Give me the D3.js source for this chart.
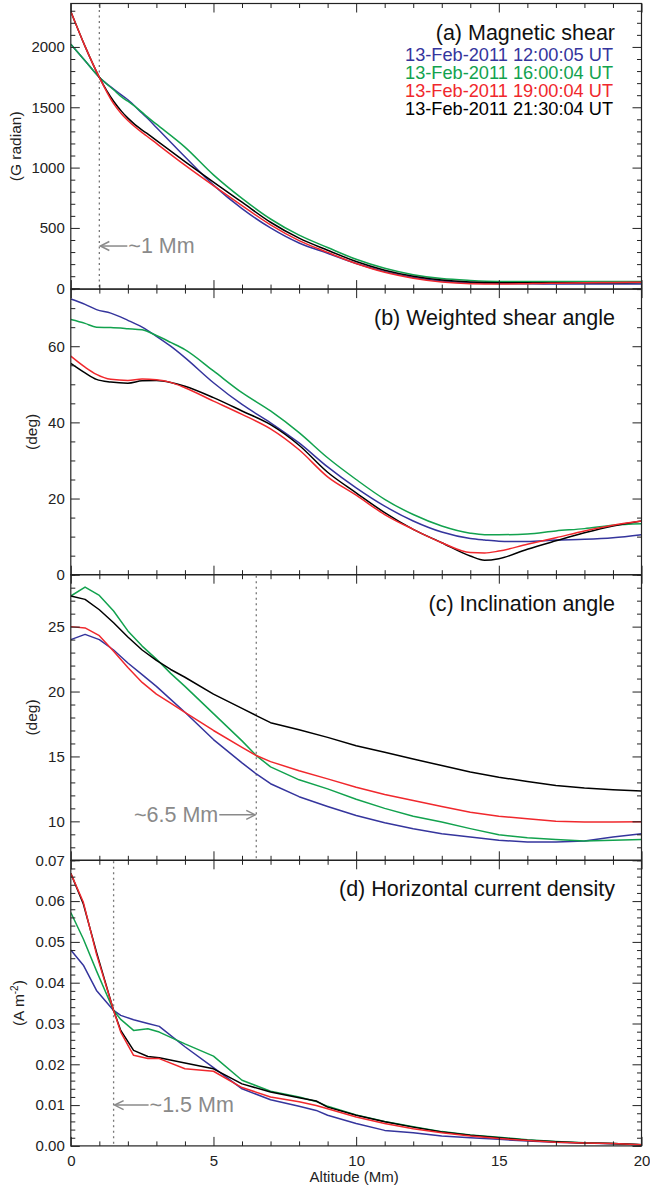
<!DOCTYPE html>
<html><head><meta charset="utf-8">
<script src="https://cdn.jsdelivr.net/npm/d3@7"></script>
<style>
body{margin:0;background:#fff}
svg{display:block}
text{font-family:"Liberation Sans",Arial,Helvetica,sans-serif}
</style>
</head><body>
<svg id="chart" width="650" height="1188"></svg>
<script>
// ---------- DATA ----------
const seriesNames = ["13-Feb-2011 12:00:05 UT","13-Feb-2011 16:00:04 UT","13-Feb-2011 19:00:04 UT","13-Feb-2011 21:30:04 UT"];
const seriesColors = ["#35359d","#12a24e","#f0282d","#000000"];
const xTicks = [0,5,10,15,20];
const xMinor = [1,2,3,4,6,7,8,9,11,12,13,14,16,17,18,19];

// (a) Magnetic shear (G radian)
const altA = [0,0.5,1,1.5,1.78,2,2.5,2.66,3,4,5,6,7,8,9,10,11,12,13,14,15,16,17,18,19,20];
const shearBlue  = [2023,1885,1748,1650,1600,1562,1450,1415,1333,1090,855,660,500,375,290,205,138,90,60,45,40,37,36,36,36,36];
const shearGreen = [2023,1885,1748,1645,1585,1550,1458,1424,1360,1170,940,745,574,440,338,240,165,112,80,65,57,56,56,56,56,56];
const shearRed   = [2294,2005,1748,1530,1444,1390,1290,1262,1200,1020,850,685,525,395,297,205,132,83,52,38,35,38,42,45,48,50];
const shearBlack = [2294,2005,1748,1550,1466,1410,1310,1285,1225,1050,880,713,547,415,315,222,150,100,68,52,46,45,45,46,46,47];
const ticksA = [0,500,1000,1500,2000];

// (b) Weighted shear angle (deg)
const altB = [0,0.5,0.9,1.4,2,2.5,3,3.5,4,5,6,7,8,9,10,11,12,13,14,14.5,15,16,17,18,19,20];
const angleBlue  = [72.4,71.0,69.6,68.7,66.8,65.0,62.6,60.0,57.0,50.4,44.7,39.9,34.6,28.3,22.8,18.0,14.1,11.2,9.5,9.1,8.8,8.7,9.1,9.3,9.7,10.5];
const angleGreen = [67.0,66.0,65.0,64.9,64.6,64.3,62.8,61.0,59.1,53.5,47.8,43.0,37.3,30.7,25.0,19.8,15.8,12.8,10.9,10.5,10.5,10.7,11.5,12.1,13.0,13.4];
const angleRed   = [57.4,54.5,52.6,51.3,51.0,51.4,51.2,50.5,49.1,45.6,42.1,38.3,32.8,25.7,20.9,15.8,11.9,8.4,5.8,5.7,6.2,8.0,9.7,11.5,13.0,14.1];
const angleBlack = [55.5,53.0,51.3,50.6,50.3,50.9,51.0,50.5,49.5,46.5,43.0,39.4,34.0,26.9,21.5,16.3,11.9,8.4,4.9,3.8,4.2,6.7,8.9,11.0,12.8,14.1];
const ticksB = [0,20,40,60];

// (c) Inclination angle (deg)
const altC = [0,0.5,1,1.5,2,2.5,3,3.5,4,5,6,6.5,7,8,9,10,11,12,13,14,15,16,17,18,19,20];
const inclBlue  = [24.0,24.4,24.0,23.2,22.2,21.3,20.4,19.4,18.4,16.3,14.5,13.65,12.9,11.9,11.15,10.45,9.9,9.43,9.05,8.8,8.54,8.41,8.41,8.49,8.8,9.05];
const inclGreen = [27.36,28.05,27.4,26.2,24.67,23.5,22.5,21.4,20.4,18.3,16.2,15.07,14.2,13.2,12.5,11.7,11.0,10.4,9.95,9.44,8.97,8.74,8.6,8.49,8.54,8.6];
const inclRed   = [25.0,24.9,24.3,23.1,21.85,20.7,19.8,19.1,18.4,17.0,15.7,15.07,14.6,13.9,13.27,12.63,12.07,11.6,11.15,10.7,10.4,10.2,10.0,9.95,9.95,9.97];
const inclBlack = [27.36,27.1,26.3,25.3,24.2,23.2,22.4,21.7,21.1,19.8,18.7,18.15,17.6,17.05,16.47,15.83,15.32,14.8,14.3,13.8,13.4,13.07,12.76,12.56,12.43,12.33];
const ticksC = [10,15,20,25];

// (d) Horizontal current density (A m^-2)
const altD = [0,0.44,0.9,1.5,1.75,2.2,2.7,3.1,4,5,6,7,8,8.6,9,10,11,12,13,14,15,16,17,18,19,20];
const jhBlue  = [0.0480,0.0443,0.0381,0.0332,0.0320,0.0309,0.0300,0.0293,0.0243,0.0192,0.0140,0.0113,0.0097,0.0087,0.0075,0.0055,0.0038,0.0032,0.0024,0.0020,0.0016,0.0012,0.0009,0.0007,0.0005,0.0003];
const jhGreen = [0.0572,0.0507,0.0429,0.0332,0.0310,0.0283,0.0287,0.0279,0.0250,0.0220,0.0161,0.0134,0.0120,0.0109,0.0097,0.0076,0.0060,0.0047,0.0035,0.0027,0.0021,0.0015,0.0011,0.0008,0.0006,0.0003];
const jhRed   = [0.0668,0.0597,0.0470,0.0332,0.0279,0.0222,0.0214,0.0214,0.0189,0.0183,0.0143,0.0120,0.0108,0.0099,0.0091,0.0071,0.0055,0.0042,0.0032,0.0024,0.0018,0.0013,0.0009,0.0007,0.0006,0.0003];
const jhBlack = [0.0668,0.0593,0.0475,0.0332,0.0283,0.0234,0.0219,0.0216,0.0203,0.0189,0.0152,0.0132,0.0118,0.0110,0.0095,0.0075,0.0059,0.0046,0.0034,0.0026,0.0020,0.0014,0.0010,0.0007,0.0006,0.0003];
const ticksD = [0,0.01,0.02,0.03,0.04,0.05,0.06,0.07];

// ---------- LAYOUT ----------
const svg = d3.select("#chart");
const X0 = 70.8, X1 = 641.5, TOP = 3.5, PH = 285.6;
const x = d3.scaleLinear().domain([0,20]).range([X0,X1]);
const AXC = "#222";
const GRAY = "#8a8a8a";

const panels = [
  {title:"(a) Magnetic shear", ylab:"(G radian)", labX:21, domain:[-7,2360], alt:altA,
   series:[shearBlue,shearGreen,shearBlack,shearRed], major:ticksA, minorStep:100, fmt:d3.format("d"),
   curve:d3.curveMonotoneX, mark:{x:1, y:350, dir:-1, len:27, label:"~1 Mm"}},
  {title:"(b) Weighted shear angle", ylab:"(deg)", labX:37, domain:[0,75], alt:altB,
   series:[angleBlue,angleGreen,angleBlack,angleRed], major:ticksB, minorStep:5, fmt:d3.format("d"),
   curve:d3.curveMonotoneX, mark:null},
  {title:"(c) Inclination angle", ylab:"(deg)", labX:37, domain:[7,29], alt:altC,
   series:[inclBlue,inclGreen,inclBlack,inclRed], major:ticksC, minorStep:1, fmt:d3.format("d"),
   curve:d3.curveLinear, mark:{x:6.5, y:10.5, dir:1, len:36, label:"~6.5 Mm"}},
  {title:"(d) Horizontal current density", ylab:null, labX:24, domain:[0,0.07], alt:altD,
   series:[jhBlue,jhGreen,jhBlack,jhRed], major:ticksD, minorStep:0.002, fmt:d3.format(".2f"),
   curve:d3.curveLinear, mark:{x:1.5, y:0.01, dir:-1, len:34, label:"~1.5 Mm"}}
];

function styleAxis(sel){
  sel.select(".domain").remove();
  sel.selectAll(".tick line").attr("stroke",AXC).attr("stroke-width",1);
  sel.selectAll(".tick text").attr("fill",AXC).attr("font-size","15px")
     .attr("font-family",'"Liberation Sans",Arial,Helvetica,sans-serif');
}

panels.forEach((p,i)=>{
  const top = TOP + i*PH, bottom = top + PH;
  const y = d3.scaleLinear().domain(p.domain).range([bottom, top]);
  const g = svg.append("g");
  const cid = "clip"+i;
  svg.append("clipPath").attr("id",cid).append("rect")
     .attr("x",X0).attr("y",top).attr("width",X1-X0).attr("height",PH);

  if (p.mark){
    g.append("line").attr("x1",x(p.mark.x)).attr("x2",x(p.mark.x)).attr("y1",top+1).attr("y2",bottom)
     .attr("stroke","#777").attr("stroke-width",1.3).attr("stroke-dasharray","2,3.5");
  }

  // data lines, drawn blue, green, black, red
  const line = d3.line().x(d=>x(d[0])).y(d=>y(d[1])).curve(p.curve);
  const colorIdx = [0,1,3,2];
  const lg = g.append("g").attr("clip-path",`url(#${cid})`);
  p.series.forEach((s,k)=>{
    const pts = p.alt.map((a,j)=>[a,s[j]]);
    lg.append("path").attr("d",line(pts)).attr("fill","none")
      .attr("stroke",seriesColors[colorIdx[k]]).attr("stroke-width",1.5).attr("stroke-linejoin","round");
  });

  const lo = p.domain[0], hi = p.domain[1];
  const minors = d3.range(Math.ceil(lo/p.minorStep), Math.floor(hi/p.minorStep+1e-9)+1)
     .map(v=>+(v*p.minorStep).toFixed(6)).filter(v=>v>=lo && v<=hi && !p.major.some(m=>Math.abs(m-v)<1e-9));

  g.append("g").attr("transform",`translate(${X0},0)`)
    .call(d3.axisLeft(y).tickValues(p.major).tickSize(-9).tickSizeOuter(0).tickPadding(6).tickFormat(p.fmt)).call(styleAxis);
  g.append("g").attr("transform",`translate(${X0},0)`)
    .call(d3.axisLeft(y).tickValues(minors).tickSize(-4.5).tickSizeOuter(0).tickFormat("")).call(styleAxis);
  g.append("g").attr("transform",`translate(${X1},0)`)
    .call(d3.axisRight(y).tickValues(p.major).tickSize(-9).tickSizeOuter(0).tickFormat("")).call(styleAxis);
  g.append("g").attr("transform",`translate(${X1},0)`)
    .call(d3.axisRight(y).tickValues(minors).tickSize(-4.5).tickSizeOuter(0).tickFormat("")).call(styleAxis);
  g.append("g").attr("transform",`translate(0,${top})`)
    .call(d3.axisTop(x).tickValues(xTicks).tickSize(-9).tickSizeOuter(0).tickFormat("")).call(styleAxis);
  g.append("g").attr("transform",`translate(0,${top})`)
    .call(d3.axisTop(x).tickValues(xMinor).tickSize(-4.5).tickSizeOuter(0).tickFormat("")).call(styleAxis);
  g.append("g").attr("transform",`translate(0,${bottom})`)
    .call(d3.axisBottom(x).tickValues(xTicks).tickSize(-9).tickSizeOuter(0).tickPadding(9.5)
      .tickFormat(i===3 ? d3.format("d") : "")).call(styleAxis);
  g.append("g").attr("transform",`translate(0,${bottom})`)
    .call(d3.axisBottom(x).tickValues(xMinor).tickSize(-4.5).tickSizeOuter(0).tickFormat("")).call(styleAxis);

  g.append("rect").attr("x",X0).attr("y",top).attr("width",X1-X0).attr("height",PH)
   .attr("fill","none").attr("stroke",AXC).attr("stroke-width",1.2);

  g.append("text").attr("x",615).attr("y",top+36).attr("text-anchor","end")
   .attr("font-size","21.5px").attr("fill","#111").text(p.title);

  const cy = (top+bottom)/2;
  const yl = g.append("text").attr("transform",`translate(${p.labX},${cy}) rotate(-90)`)
    .attr("text-anchor","middle").attr("font-size","15.5px").attr("fill",AXC);
  if (p.ylab) yl.text(p.ylab);
  else {
    yl.append("tspan").text("(A m");
    yl.append("tspan").attr("font-size","10px").attr("dy",-6).text("-2");
    yl.append("tspan").attr("dy",6).text(")");
  }

  if (p.mark){
    const m = p.mark, ay = y(m.y);
    const xl = x(m.x) + (m.dir<0 ? 1 : -1);
    const tail = xl + (m.dir<0 ? m.len : -m.len);
    g.append("line").attr("x1",xl).attr("x2",tail).attr("y1",ay).attr("y2",ay)
      .attr("stroke",GRAY).attr("stroke-width",1.5);
    const hd = m.dir<0 ? 9 : -9;
    g.append("path").attr("d",`M${xl+hd},${ay-4.5}L${xl},${ay}L${xl+hd},${ay+4.5}`)
      .attr("fill","none").attr("stroke",GRAY).attr("stroke-width",1.5);
    g.append("text").attr("x", m.dir<0 ? tail+1 : tail-1).attr("y",ay+7)
      .attr("text-anchor", m.dir<0 ? "start" : "end")
      .attr("font-size","21.5px").attr("fill",GRAY).text(m.label);
  }

  if (i===0){
    seriesNames.forEach((n,k)=>{
      g.append("text").attr("x",613).attr("y",60.7+k*18.2).attr("text-anchor","end")
       .attr("font-size","18.2px").attr("fill",seriesColors[k]).text(n);
    });
  }
});

svg.append("text").attr("x",x(10)-2).attr("y",1181.5).attr("text-anchor","middle")
  .attr("font-size","15px").attr("fill",AXC).text("Altitude (Mm)");
</script>
</body></html>
